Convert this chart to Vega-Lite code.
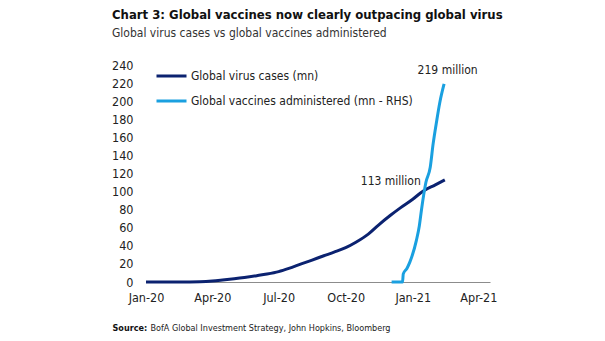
{
  "$schema": "https://vega.github.io/schema/vega-lite/v6.json",
  "width": 344,
  "height": 217,
  "autosize": {"type": "none"},
  "padding": {"left": 146, "top": 65, "right": 115, "bottom": 59},
  "background": "white",
  "title": {
    "text": "Chart 3: Global vaccines now clearly outpacing global virus",
    "subtitle": "Global virus cases vs global vaccines administered",
    "anchor": "start",
    "frame": "group",
    "dx": -34,
    "offset": 20,
    "font": "DejaVu Sans Condensed, Liberation Sans, sans-serif",
    "fontSize": 13,
    "fontWeight": "bold",
    "color": "#111111",
    "subtitleFont": "DejaVu Sans Condensed, Liberation Sans, sans-serif",
    "subtitleFontSize": 12,
    "subtitleColor": "#333333",
    "subtitlePadding": 6
  },
  "config": {
    "view": {"stroke": null},
    "font": "DejaVu Sans Condensed, Liberation Sans, sans-serif"
  },
  "datasets": {
    "series": [
      {"date": "2020-01-01", "value": 0, "series": "Global virus cases (mn)"},
      {"date": "2020-01-22", "value": 0.001, "series": "Global virus cases (mn)"},
      {"date": "2020-02-15", "value": 0.07, "series": "Global virus cases (mn)"},
      {"date": "2020-03-01", "value": 0.1, "series": "Global virus cases (mn)"},
      {"date": "2020-03-15", "value": 0.3, "series": "Global virus cases (mn)"},
      {"date": "2020-04-01", "value": 1.1, "series": "Global virus cases (mn)"},
      {"date": "2020-04-15", "value": 2.2, "series": "Global virus cases (mn)"},
      {"date": "2020-05-01", "value": 3.6, "series": "Global virus cases (mn)"},
      {"date": "2020-05-15", "value": 5.0, "series": "Global virus cases (mn)"},
      {"date": "2020-06-01", "value": 7.0, "series": "Global virus cases (mn)"},
      {"date": "2020-06-15", "value": 8.8, "series": "Global virus cases (mn)"},
      {"date": "2020-07-01", "value": 11.5, "series": "Global virus cases (mn)"},
      {"date": "2020-07-15", "value": 15, "series": "Global virus cases (mn)"},
      {"date": "2020-08-01", "value": 20, "series": "Global virus cases (mn)"},
      {"date": "2020-08-15", "value": 24, "series": "Global virus cases (mn)"},
      {"date": "2020-09-01", "value": 29, "series": "Global virus cases (mn)"},
      {"date": "2020-09-15", "value": 33, "series": "Global virus cases (mn)"},
      {"date": "2020-10-01", "value": 38, "series": "Global virus cases (mn)"},
      {"date": "2020-10-15", "value": 44, "series": "Global virus cases (mn)"},
      {"date": "2020-11-01", "value": 53, "series": "Global virus cases (mn)"},
      {"date": "2020-11-15", "value": 63, "series": "Global virus cases (mn)"},
      {"date": "2020-12-01", "value": 73.5, "series": "Global virus cases (mn)"},
      {"date": "2020-12-15", "value": 82, "series": "Global virus cases (mn)"},
      {"date": "2021-01-01", "value": 91.5, "series": "Global virus cases (mn)"},
      {"date": "2021-01-15", "value": 100.5, "series": "Global virus cases (mn)"},
      {"date": "2021-02-01", "value": 107.5, "series": "Global virus cases (mn)"},
      {"date": "2021-02-14", "value": 113, "series": "Global virus cases (mn)"},
      {"date": "2020-12-03", "value": 0, "series": "Global vaccines administered (mn - RHS)"},
      {"date": "2020-12-18", "value": 0, "series": "Global vaccines administered (mn - RHS)"},
      {"date": "2020-12-19", "value": 9, "series": "Global vaccines administered (mn - RHS)"},
      {"date": "2020-12-24", "value": 15, "series": "Global vaccines administered (mn - RHS)"},
      {"date": "2020-12-28", "value": 22, "series": "Global vaccines administered (mn - RHS)"},
      {"date": "2021-01-06", "value": 46, "series": "Global vaccines administered (mn - RHS)"},
      {"date": "2021-01-10", "value": 62, "series": "Global vaccines administered (mn - RHS)"},
      {"date": "2021-01-13", "value": 80, "series": "Global vaccines administered (mn - RHS)"},
      {"date": "2021-01-19", "value": 110, "series": "Global vaccines administered (mn - RHS)"},
      {"date": "2021-01-25", "value": 127, "series": "Global vaccines administered (mn - RHS)"},
      {"date": "2021-01-29", "value": 153, "series": "Global vaccines administered (mn - RHS)"},
      {"date": "2021-02-03", "value": 179, "series": "Global vaccines administered (mn - RHS)"},
      {"date": "2021-02-07", "value": 198, "series": "Global vaccines administered (mn - RHS)"},
      {"date": "2021-02-13", "value": 219, "series": "Global vaccines administered (mn - RHS)"}
    ],
    "labels": [
      {"date": "2021-03-31", "value": 234.5, "label": "219 million"},
      {"date": "2021-01-12", "value": 112, "label": "113 million"}
    ]
  },
  "layer": [
    {
      "data": {"name": "series"},
      "mark": {"type": "line", "strokeWidth": 3, "interpolate": "monotone"},
      "encoding": {
        "x": {
          "field": "date",
          "type": "temporal",
          "scale": {
            "type": "utc",
            "domain": [
              {"year": 2020, "month": 1, "date": 1, "utc": true},
              {"year": 2021, "month": 4, "date": 17, "utc": true}
            ]
          },
          "axis": {
            "orient": "bottom",
            "values": [
              {"year": 2020, "month": 1, "date": 1, "utc": true},
              {"year": 2020, "month": 4, "date": 1, "utc": true},
              {"year": 2020, "month": 7, "date": 1, "utc": true},
              {"year": 2020, "month": 10, "date": 1, "utc": true},
              {"year": 2021, "month": 1, "date": 1, "utc": true},
              {"year": 2021, "month": 4, "date": 1, "utc": true}
            ],
            "labelExpr": "utcFormat(datum.value, '%b-%y')",
            "grid": false,
            "ticks": false,
            "domainColor": "#8c8c8c",
            "domainWidth": 1.2,
            "labelFontSize": 12.5,
            "labelColor": "#222222",
            "labelPadding": 9,
            "labelFlush": false,
            "labelOverlap": false,
            "title": "Source:",
            "titleFontSize": 9,
            "titleFontWeight": "bold",
            "titleColor": "#111111",
            "titleAnchor": "start",
            "titleAlign": "left",
            "titleBaseline": "alphabetic",
            "titleX": -34,
            "titleY": 48
          }
        },
        "y": {
          "field": "value",
          "type": "quantitative",
          "scale": {"domain": [0, 240], "nice": false},
          "axis": {
            "values": [0, 20, 40, 60, 80, 100, 120, 140, 160, 180, 200, 220, 240],
            "grid": false,
            "ticks": false,
            "domain": false,
            "labelOverlap": false,
            "labelFontSize": 12.5,
            "labelColor": "#222222",
            "labelPadding": 13,
            "title": null
          }
        },
        "color": {
          "field": "series",
          "type": "nominal",
          "scale": {
            "domain": ["Global virus cases (mn)", "Global vaccines administered (mn - RHS)"],
            "range": ["#0b2270", "#1aa0e0"]
          },
          "legend": {
            "title": null,
            "orient": "none",
            "legendX": 9,
            "legendY": 1,
            "symbolType": "stroke",
            "symbolSize": 900,
            "symbolStrokeWidth": 3,
            "clipHeight": 20,
            "rowPadding": 5,
            "labelOffset": 3,
            "labelLimit": 400,
            "labelFontSize": 12,
            "labelColor": "#222222"
          }
        }
      }
    },
    {
      "data": {"name": "labels"},
      "mark": {"type": "text", "align": "right", "baseline": "middle", "fontSize": 12, "color": "#222222"},
      "encoding": {
        "x": {
          "field": "date",
          "type": "temporal",
          "axis": {
            "orient": "bottom",
            "labels": false,
            "ticks": false,
            "domain": false,
            "grid": false,
            "title": "BofA Global Investment Strategy, John Hopkins, Bloomberg",
            "titleFontSize": 9,
            "titleFontWeight": "normal",
            "titleColor": "#222222",
            "titleAnchor": "start",
            "titleAlign": "left",
            "titleBaseline": "alphabetic",
            "titleX": 4,
            "titleY": 48
          }
        },
        "y": {
          "field": "value",
          "type": "quantitative",
          "axis": {
            "values": [0, 20, 40, 60, 80, 100, 120, 140, 160, 180, 200, 220, 240],
            "grid": false,
            "ticks": false,
            "domain": false,
            "labelOverlap": false,
            "labelFontSize": 12.5,
            "labelColor": "#222222",
            "labelPadding": 13,
            "title": null
          }
        },
        "text": {"field": "label"}
      }
    }
  ],
  "resolve": {"axis": {"x": "independent"}}
}
